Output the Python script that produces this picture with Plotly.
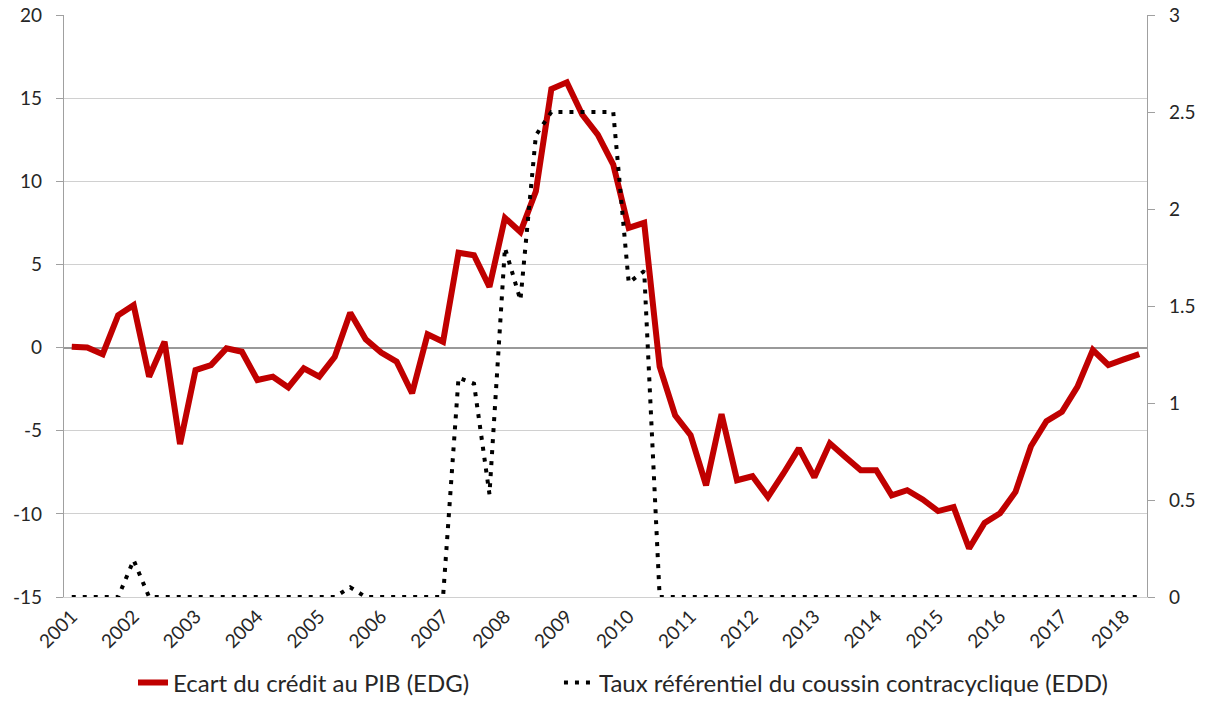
import plotly.graph_objects as go

# Quarterly data, 2001Q1 - 2018Q2
years = [str(y) for y in range(2001, 2019)]

edg = [0.05, 0.0, -0.4, 1.95, 2.55, -1.75, 0.35, -5.8,
       -1.35, -1.05, -0.05, -0.25, -1.95, -1.75, -2.4, -1.25,
       -1.75, -0.55, 2.1, 0.5, -0.3, -0.85, -2.75, 0.8,
       0.35, 5.7, 5.55, 3.65, 7.8, 6.95, 9.4, 15.55,
       15.95, 14.0, 12.8, 11.0, 7.2, 7.5, -1.15, -4.07,
       -5.27, -8.28, -4.0, -7.98, -7.74, -8.99, -7.57, -6.06,
       -7.8, -5.76, -6.58, -7.38, -7.38, -8.89, -8.58, -9.13,
       -9.83, -9.59, -12.08, -10.55, -9.97, -8.68, -5.93, -4.43,
       -3.86, -2.36, -0.15, -1.05, -0.71, -0.39]

edd = [0, 0, 0, 0, 0.19, 0, 0, 0,
       0, 0, 0, 0, 0, 0, 0, 0,
       0, 0, 0.05, 0, 0, 0, 0, 0,
       0, 1.13, 1.1, 0.53, 1.8, 1.53, 2.38, 2.5,
       2.5, 2.5, 2.5, 2.5, 1.62, 1.68, 0, 0,
       0, 0, 0, 0, 0, 0, 0, 0,
       0, 0, 0, 0, 0, 0, 0, 0,
       0, 0, 0, 0, 0, 0, 0, 0,
       0, 0, 0, 0, 0, 0]

left_ticks = [-15, -10, -5, 0, 5, 10, 15, 20]
right_ticks = [0, 0.5, 1, 1.5, 2, 2.5, 3]
right_labels = ["0", "0.5", "1", "1.5", "2", "2.5", "3"]

name_edg = "Ecart du crédit au PIB (EDG)"
name_edd = "Taux référentiel du coussin contracyclique (EDD)"

x = list(range(len(edg)))
tick_pos = x[::4]

FONT = "Lato"
TXT = "#262626"
GRID = "#d0d0d0"
AXIS = "#a0a0a0"

fig = go.Figure()
fig.add_trace(go.Scatter(
    x=x, y=edg, name=name_edg, mode="lines",
    line=dict(color="#c00000", width=6),
    hoverinfo="skip", legend="legend",
))
fig.add_trace(go.Scatter(
    x=x, y=edd, name=name_edd, mode="lines", yaxis="y2",
    line=dict(color="#000000", width=4, dash="4px,7px"),
    hoverinfo="skip", legend="legend2",
))

legend_common = dict(
    orientation="h", xref="container", yref="container",
    xanchor="left", y=0.0553, yanchor="middle",
    font=dict(family=FONT, size=24, color=TXT),
    bgcolor="rgba(0,0,0,0)",
)

fig.update_layout(
    width=1207, height=723,
    margin=dict(l=64, r=60, t=15, b=126, autoexpand=False),
    paper_bgcolor="white", plot_bgcolor="white",
    font=dict(family=FONT, size=19, color=TXT),
    showlegend=True,
    hovermode=False,
    legend=dict(x=0.1102, **legend_common),
    legend2=dict(x=0.4631, **legend_common),
    xaxis=dict(
        range=[-0.5, len(x) - 0.5], automargin=False,
        tickmode="array", tickvals=tick_pos, ticktext=years,
        tickangle=-45, ticks="", showgrid=False, zeroline=False,
        showline=True, linecolor=GRID, linewidth=1,
        tickfont=dict(family=FONT, size=19, color=TXT),
    ),
    yaxis=dict(
        range=[-15, 20], tickmode="array", tickvals=left_ticks,
        ticktext=[str(v) for v in left_ticks], automargin=False,
        showgrid=True, gridcolor=GRID, gridwidth=1.3,
        zeroline=True, zerolinecolor="#999999", zerolinewidth=1.6,
        showline=True, linecolor=AXIS, linewidth=1.3,
        ticks="outside", ticklen=7, tickcolor=AXIS,
        ticklabelstandoff=10,
        tickfont=dict(family=FONT, size=19, color=TXT),
    ),
    yaxis2=dict(
        range=[0, 3], overlaying="y", side="right", automargin=False,
        tickmode="array", tickvals=right_ticks, ticktext=right_labels,
        showgrid=False, zeroline=False,
        showline=True, linecolor=AXIS, linewidth=1.3,
        ticks="outside", ticklen=7, tickcolor=AXIS,
        ticklabelstandoff=10,
        tickfont=dict(family=FONT, size=19, color=TXT),
    ),
)

fig.write_html(
    "out.html",
    config={"displayModeBar": False},
    post_script="document.body.style.margin='0px';",
)
